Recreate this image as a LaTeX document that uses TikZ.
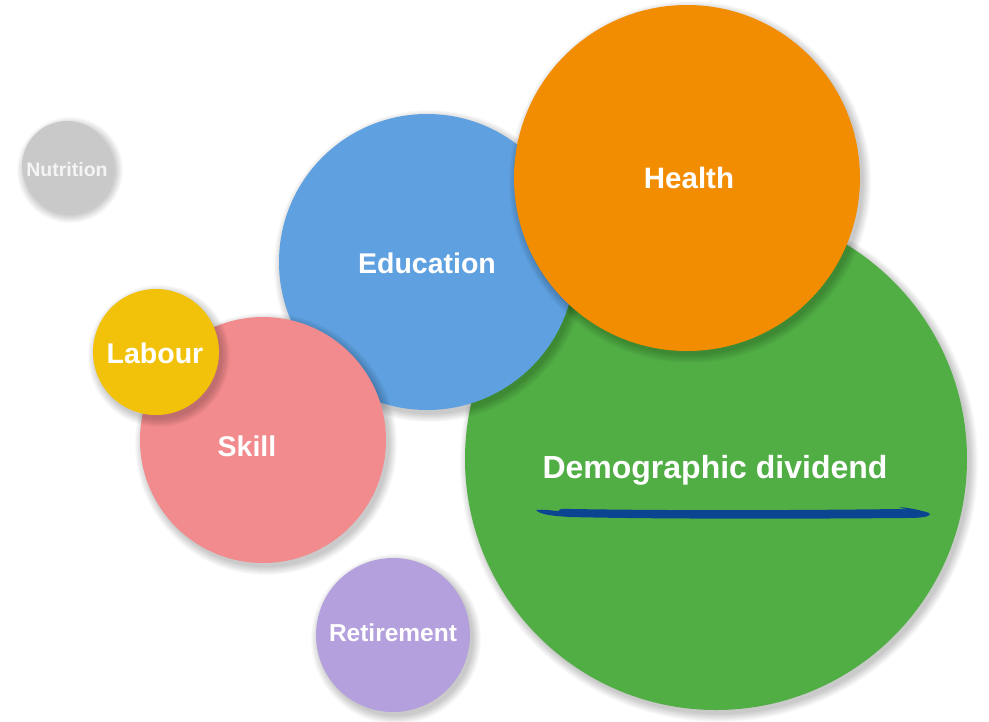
\documentclass[tikz,border=0pt]{standalone}
\usepackage{fontspec}
\setmainfont{Liberation Sans}
\definecolor{cgreen}{HTML}{50AE45}
\definecolor{cblue}{HTML}{5FA0E0}
\definecolor{corange}{HTML}{F28C00}
\definecolor{cpink}{HTML}{F28B8E}
\definecolor{cyellow}{HTML}{F2C10A}
\definecolor{cgray}{HTML}{C9C9C9}
\definecolor{cpurple}{HTML}{B3A0DC}
\definecolor{cink}{HTML}{0B4591}
\tikzset{
  bubble/.style={circle, inner sep=0pt, minimum size=#1},
  shadowdisc/.style={fill=black, fill opacity=0.022},
  lbl/.style={text=white, font=\bfseries}
}
\newcommand{\mysoftshadow}[3]{%
  \foreach \k in {1,...,9}{\fill[shadowdisc] (#1+3,#2+4) circle[radius=#3+9-\k];}}
\begin{document}
\begin{tikzpicture}[x=1pt,y=-1pt]
\useasboundingbox[fill=white] (0,0) rectangle (989,721);
\mysoftshadow{716}{459}{251}
\node[bubble=502pt, fill=cgreen] (dd) at (716,459) {};
\mysoftshadow{427}{262}{148}
\node[bubble=296pt, fill=cblue] (edu) at (427,262) {};
\mysoftshadow{687}{178}{173}
\node[bubble=346pt, fill=corange] (hea) at (687,178) {};
\mysoftshadow{263}{440}{123}
\node[bubble=246pt, fill=cpink] (ski) at (263,440) {};
\mysoftshadow{156}{352}{63}
\node[bubble=126pt, fill=cyellow] (lab) at (156,352) {};
\mysoftshadow{67}{166}{45}
\node[bubble=90pt, fill=cgray] (nut) at (67,166) {};
\mysoftshadow{393}{635}{77}
\node[bubble=154pt, fill=cpurple] (ret) at (393,635) {};
\node[lbl, font=\bfseries\fontsize{32}{32}\selectfont] (tdd) at (715,470) {Demographic dividend};
\node[lbl, font=\bfseries\fontsize{29.5}{30}\selectfont] (thea) at (689,178) {Health};
\node[lbl, font=\bfseries\fontsize{28.5}{30}\selectfont] (tedu) at (427,263) {Education};
\node[lbl, font=\bfseries\fontsize{28.5}{30}\selectfont] (tski) at (247,446) {Skill};
\node[lbl, font=\bfseries\fontsize{28.5}{30}\selectfont] (tlab) at (155,353) {Labour};
\node[lbl, font=\bfseries\fontsize{24.5}{26}\selectfont] (tret) at (393,633) {Retirement};
\node[text=white!92!gray, font=\bfseries\fontsize{19.5}{20}\selectfont] (tnut) at (67,170) {Nutrition};
% hand-drawn underline
\fill[cink] (536,510) .. controls (545,509) and (552,511) .. (560,511)
  .. controls (556,510) and (562,508) .. (570,509)
  .. controls (700,511) and (820,510) .. (900,509)
  .. controls (915,510) and (928,511) .. (930,514)
  .. controls (929,518) and (915,518) .. (900,518)
  .. controls (800,519) and (650,519) .. (570,517)
  .. controls (555,516) and (540,515) .. (536,510) -- cycle;
\fill[cink] (899,507) .. controls (910,508) and (922,510) .. (926,513) -- (915,514) .. controls (910,511) and (905,509) .. (899,507) -- cycle;
\end{tikzpicture}
\end{document}
